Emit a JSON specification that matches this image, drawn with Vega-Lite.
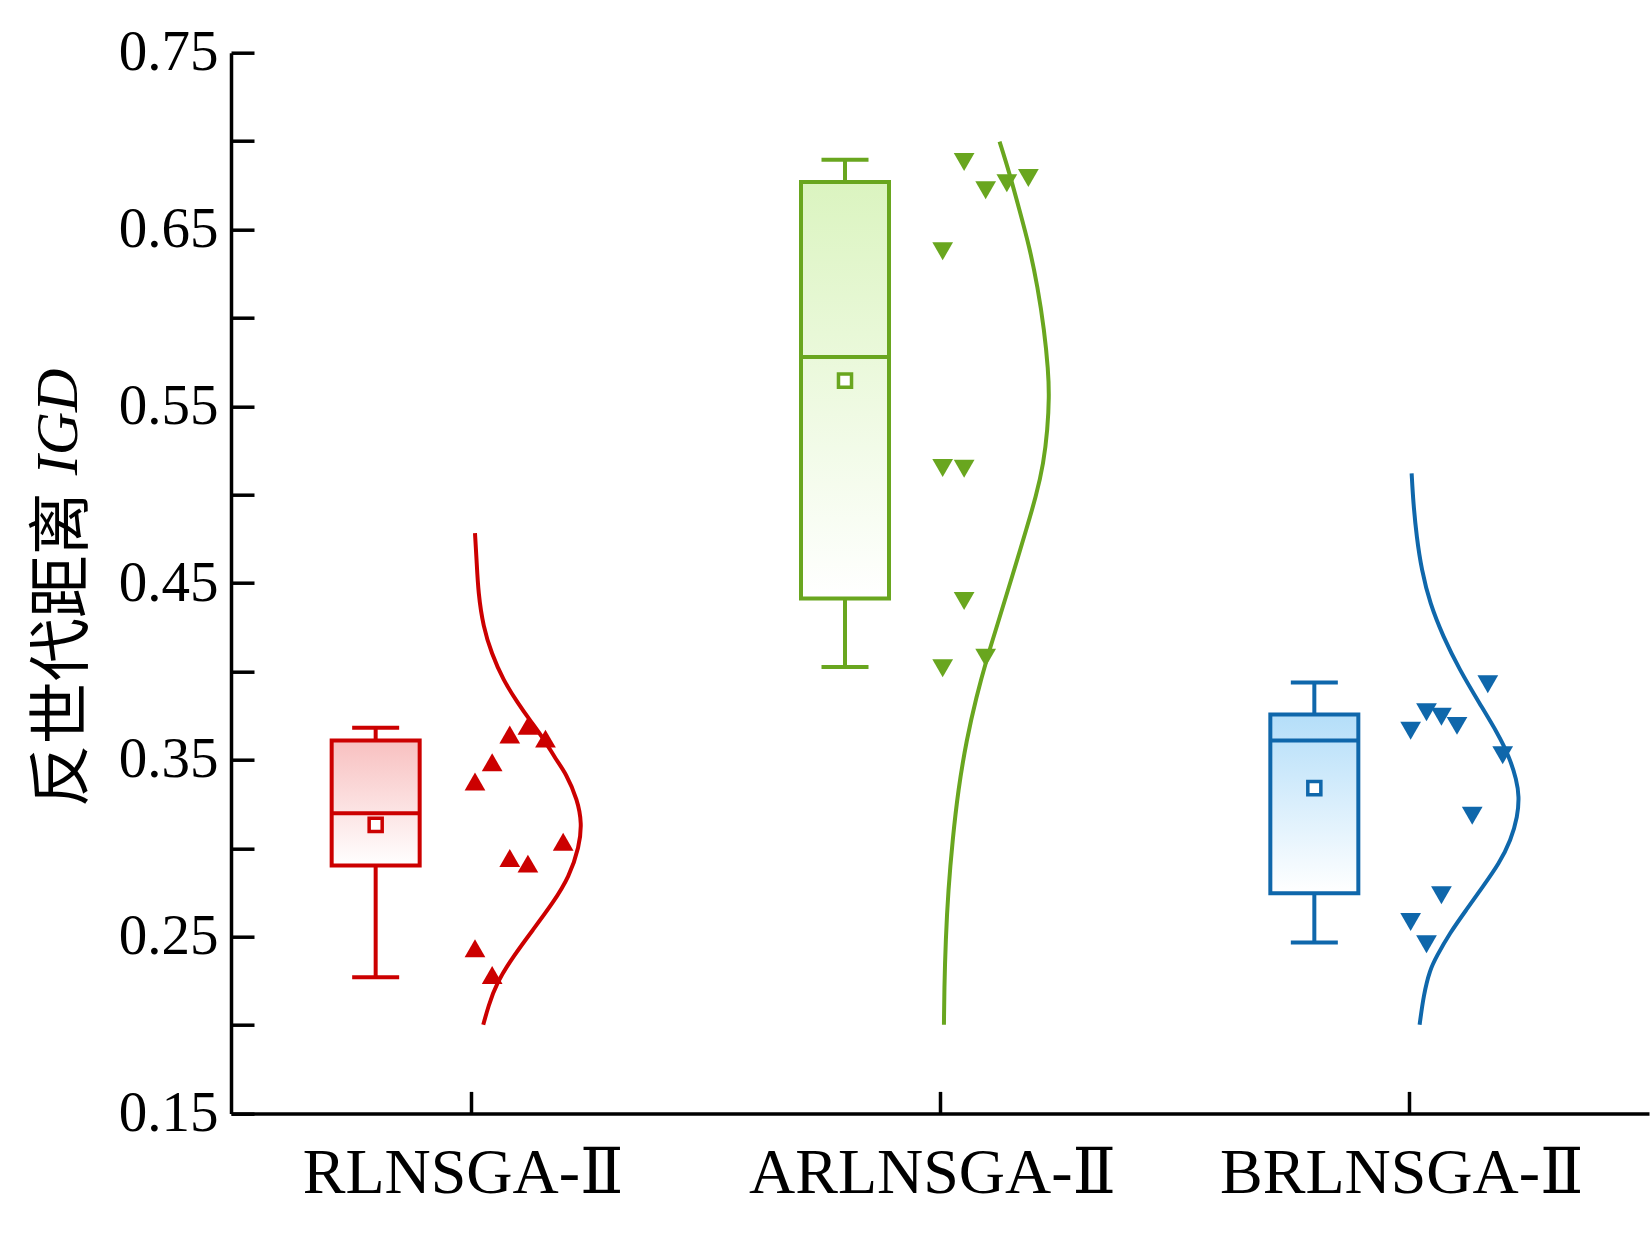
{
  "$schema": "https://vega.github.io/schema/vega-lite/v6.json",
  "description": "IGD box plots with points and normal curves",
  "autosize": "none",
  "width": 1418,
  "height": 1060.7,
  "padding": {"left": 231, "top": 52.7, "right": 1, "bottom": 124.6},
  "background": "white",
  "datasets": {
    "boxes": [
      {"g": "RLNSGA-Ⅱ", "pos": 0.5, "lo": 0.2270, "q1": 0.2902, "med": 0.3198, "q3": 0.3609, "hi": 0.3682, "mean": 0.3132},
      {"g": "ARLNSGA-Ⅱ", "pos": 1.5, "lo": 0.4025, "q1": 0.4412, "med": 0.5779, "q3": 0.6769, "hi": 0.6895, "mean": 0.5645},
      {"g": "BRLNSGA-Ⅱ", "pos": 2.5, "lo": 0.2467, "q1": 0.2746, "med": 0.3609, "q3": 0.3756, "hi": 0.3938, "mean": 0.3340}
    ],
    "points": [
      {"g": "RLNSGA-Ⅱ", "x": 0.5833, "v": 0.3643},
      {"g": "RLNSGA-Ⅱ", "x": 0.6220, "v": 0.3692},
      {"g": "RLNSGA-Ⅱ", "x": 0.6594, "v": 0.3620},
      {"g": "RLNSGA-Ⅱ", "x": 0.5458, "v": 0.3486},
      {"g": "RLNSGA-Ⅱ", "x": 0.5092, "v": 0.3377},
      {"g": "RLNSGA-Ⅱ", "x": 0.6971, "v": 0.3037},
      {"g": "RLNSGA-Ⅱ", "x": 0.5833, "v": 0.2945},
      {"g": "RLNSGA-Ⅱ", "x": 0.6220, "v": 0.2913},
      {"g": "RLNSGA-Ⅱ", "x": 0.5092, "v": 0.2434},
      {"g": "RLNSGA-Ⅱ", "x": 0.5458, "v": 0.2283},
      {"g": "ARLNSGA-Ⅱ", "x": 1.5514, "v": 0.6882},
      {"g": "ARLNSGA-Ⅱ", "x": 1.5973, "v": 0.6722},
      {"g": "ARLNSGA-Ⅱ", "x": 1.6424, "v": 0.6761},
      {"g": "ARLNSGA-Ⅱ", "x": 1.6883, "v": 0.6791},
      {"g": "ARLNSGA-Ⅱ", "x": 1.5057, "v": 0.6377},
      {"g": "ARLNSGA-Ⅱ", "x": 1.5057, "v": 0.5151},
      {"g": "ARLNSGA-Ⅱ", "x": 1.5514, "v": 0.5147},
      {"g": "ARLNSGA-Ⅱ", "x": 1.5514, "v": 0.4399},
      {"g": "ARLNSGA-Ⅱ", "x": 1.5057, "v": 0.4018},
      {"g": "ARLNSGA-Ⅱ", "x": 1.5973, "v": 0.4078},
      {"g": "BRLNSGA-Ⅱ", "x": 2.6672, "v": 0.3928},
      {"g": "BRLNSGA-Ⅱ", "x": 2.5366, "v": 0.3769},
      {"g": "BRLNSGA-Ⅱ", "x": 2.5684, "v": 0.3744},
      {"g": "BRLNSGA-Ⅱ", "x": 2.6016, "v": 0.3692},
      {"g": "BRLNSGA-Ⅱ", "x": 2.5028, "v": 0.3665},
      {"g": "BRLNSGA-Ⅱ", "x": 2.6989, "v": 0.3526},
      {"g": "BRLNSGA-Ⅱ", "x": 2.6340, "v": 0.3184},
      {"g": "BRLNSGA-Ⅱ", "x": 2.5684, "v": 0.2734},
      {"g": "BRLNSGA-Ⅱ", "x": 2.5028, "v": 0.2583},
      {"g": "BRLNSGA-Ⅱ", "x": 2.5366, "v": 0.2457}
    ],
    "curves": [
      {"g": "RLNSGA-Ⅱ", "x": 0.5092, "v": 0.4782},
      {"g": "RLNSGA-Ⅱ", "x": 0.5126, "v": 0.4631},
      {"g": "RLNSGA-Ⅱ", "x": 0.5162, "v": 0.4442},
      {"g": "RLNSGA-Ⅱ", "x": 0.5268, "v": 0.4253},
      {"g": "RLNSGA-Ⅱ", "x": 0.5444, "v": 0.4103},
      {"g": "RLNSGA-Ⅱ", "x": 0.5691, "v": 0.3952},
      {"g": "RLNSGA-Ⅱ", "x": 0.6008, "v": 0.3820},
      {"g": "RLNSGA-Ⅱ", "x": 0.6256, "v": 0.3726},
      {"g": "RLNSGA-Ⅱ", "x": 0.6573, "v": 0.3613},
      {"g": "RLNSGA-Ⅱ", "x": 0.6819, "v": 0.3500},
      {"g": "RLNSGA-Ⅱ", "x": 0.7030, "v": 0.3424},
      {"g": "RLNSGA-Ⅱ", "x": 0.7278, "v": 0.3273},
      {"g": "RLNSGA-Ⅱ", "x": 0.7369, "v": 0.3141},
      {"g": "RLNSGA-Ⅱ", "x": 0.7314, "v": 0.3009},
      {"g": "RLNSGA-Ⅱ", "x": 0.7102, "v": 0.2839},
      {"g": "RLNSGA-Ⅱ", "x": 0.6749, "v": 0.2689},
      {"g": "RLNSGA-Ⅱ", "x": 0.6326, "v": 0.2538},
      {"g": "RLNSGA-Ⅱ", "x": 0.5903, "v": 0.2387},
      {"g": "RLNSGA-Ⅱ", "x": 0.5549, "v": 0.2236},
      {"g": "RLNSGA-Ⅱ", "x": 0.5374, "v": 0.2104},
      {"g": "RLNSGA-Ⅱ", "x": 0.5268, "v": 0.2001},
      {"g": "ARLNSGA-Ⅱ", "x": 1.6269, "v": 0.6997},
      {"g": "ARLNSGA-Ⅱ", "x": 1.6481, "v": 0.6818},
      {"g": "ARLNSGA-Ⅱ", "x": 1.6693, "v": 0.6610},
      {"g": "ARLNSGA-Ⅱ", "x": 1.6904, "v": 0.6403},
      {"g": "ARLNSGA-Ⅱ", "x": 1.7080, "v": 0.6176},
      {"g": "ARLNSGA-Ⅱ", "x": 1.7221, "v": 0.5932},
      {"g": "ARLNSGA-Ⅱ", "x": 1.7306, "v": 0.5705},
      {"g": "ARLNSGA-Ⅱ", "x": 1.7327, "v": 0.5554},
      {"g": "ARLNSGA-Ⅱ", "x": 1.7291, "v": 0.5366},
      {"g": "ARLNSGA-Ⅱ", "x": 1.7207, "v": 0.5178},
      {"g": "ARLNSGA-Ⅱ", "x": 1.7046, "v": 0.4989},
      {"g": "ARLNSGA-Ⅱ", "x": 1.6834, "v": 0.4800},
      {"g": "ARLNSGA-Ⅱ", "x": 1.6623, "v": 0.4612},
      {"g": "ARLNSGA-Ⅱ", "x": 1.6449, "v": 0.4461},
      {"g": "ARLNSGA-Ⅱ", "x": 1.6233, "v": 0.4273},
      {"g": "ARLNSGA-Ⅱ", "x": 1.5988, "v": 0.4065},
      {"g": "ARLNSGA-Ⅱ", "x": 1.5776, "v": 0.3857},
      {"g": "ARLNSGA-Ⅱ", "x": 1.5565, "v": 0.3613},
      {"g": "ARLNSGA-Ⅱ", "x": 1.5387, "v": 0.3330},
      {"g": "ARLNSGA-Ⅱ", "x": 1.5268, "v": 0.3047},
      {"g": "ARLNSGA-Ⅱ", "x": 1.5176, "v": 0.2764},
      {"g": "ARLNSGA-Ⅱ", "x": 1.5121, "v": 0.2481},
      {"g": "ARLNSGA-Ⅱ", "x": 1.5091, "v": 0.2199},
      {"g": "ARLNSGA-Ⅱ", "x": 1.5084, "v": 0.2001},
      {"g": "BRLNSGA-Ⅱ", "x": 2.5049, "v": 0.5121},
      {"g": "BRLNSGA-Ⅱ", "x": 2.5085, "v": 0.4951},
      {"g": "BRLNSGA-Ⅱ", "x": 2.5155, "v": 0.4762},
      {"g": "BRLNSGA-Ⅱ", "x": 2.5261, "v": 0.4574},
      {"g": "BRLNSGA-Ⅱ", "x": 2.5437, "v": 0.4386},
      {"g": "BRLNSGA-Ⅱ", "x": 2.5720, "v": 0.4197},
      {"g": "BRLNSGA-Ⅱ", "x": 2.6071, "v": 0.4009},
      {"g": "BRLNSGA-Ⅱ", "x": 2.6494, "v": 0.3820},
      {"g": "BRLNSGA-Ⅱ", "x": 2.6884, "v": 0.3650},
      {"g": "BRLNSGA-Ⅱ", "x": 2.7129, "v": 0.3518},
      {"g": "BRLNSGA-Ⅱ", "x": 2.7286, "v": 0.3386},
      {"g": "BRLNSGA-Ⅱ", "x": 2.7340, "v": 0.3292},
      {"g": "BRLNSGA-Ⅱ", "x": 2.7307, "v": 0.3179},
      {"g": "BRLNSGA-Ⅱ", "x": 2.7165, "v": 0.3047},
      {"g": "BRLNSGA-Ⅱ", "x": 2.6918, "v": 0.2915},
      {"g": "BRLNSGA-Ⅱ", "x": 2.6566, "v": 0.2783},
      {"g": "BRLNSGA-Ⅱ", "x": 2.6213, "v": 0.2651},
      {"g": "BRLNSGA-Ⅱ", "x": 2.5859, "v": 0.2519},
      {"g": "BRLNSGA-Ⅱ", "x": 2.5578, "v": 0.2387},
      {"g": "BRLNSGA-Ⅱ", "x": 2.5437, "v": 0.2312},
      {"g": "BRLNSGA-Ⅱ", "x": 2.5304, "v": 0.2170},
      {"g": "BRLNSGA-Ⅱ", "x": 2.5219, "v": 0.2001}
    ]
  },
  "layer": [
    {
      "layer": [
        {
          "data": {"name": "boxes"},
          "mark": {"type": "rule", "strokeWidth": 4, "xOffset": -95},
          "encoding": {
            "x": {
              "field": "pos", "type": "quantitative",
              "scale": {"domain": [0, 3], "nice": false, "zero": false},
              "axis": {
                "values": [0.5, 1.5, 2.5],
                "labelExpr": "datum.value < 1 ? 'RLNSGA-Ⅱ' : datum.value < 2 ? 'ARLNSGA-Ⅱ' : 'BRLNSGA-Ⅱ'",
                "title": null, "grid": false,
                "tickSize": -22, "tickWidth": 3.5, "tickColor": "black",
                "domainWidth": 3.5, "domainColor": "black",
                "labelFont": "Liberation Serif, DejaVu Serif, Noto Sans CJK SC",
                "labelFontSize": 64, "labelColor": "black", "labelPadding": 50, "labelOffset": -8,
                "labelFlush": false, "labelOverlap": false, "labelLimit": 0
              }
            },
            "y": {
              "field": "lo", "type": "quantitative",
              "scale": {"domain": [0.15, 0.75], "nice": false, "zero": false},
              "title": "反世代距离",
              "axis": {
                "values": [0.15, 0.2, 0.25, 0.3, 0.35, 0.4, 0.45, 0.5, 0.55, 0.6, 0.65, 0.7, 0.75],
                "labelExpr": "round(datum.value * 100) % 10 == 5 ? format(datum.value, '.2f') : ''",
                "grid": false,
                "tickSize": -23, "tickWidth": 3.5, "tickColor": "black",
                "domainWidth": 3.5, "domainColor": "black",
                "labelFont": "Liberation Serif", "labelFontSize": 57, "labelColor": "black",
                "labelPadding": 36, "labelFlush": false, "labelOverlap": false,
                "titleFont": "Noto Sans CJK SC", "titleFontSize": 63,
                "titleFontWeight": "normal", "titleColor": "black",
                "titleAngle": -90, "titleAlign": "left", "titleBaseline": "middle",
                "titleX": -169, "titleY": 754
              }
            },
            "y2": {"field": "hi"},
            "color": {
              "field": "g", "type": "nominal", "legend": null,
              "scale": {"domain": ["RLNSGA-Ⅱ", "ARLNSGA-Ⅱ", "BRLNSGA-Ⅱ"], "range": ["#cc0000", "#69a61f", "#0f67ab"]}
            }
          }
        },
        {
          "data": {"name": "boxes"},
          "mark": {"type": "tick", "orient": "horizontal", "size": 47, "thickness": 4, "opacity": 1, "xOffset": -95},
          "encoding": {
            "x": {"field": "pos", "type": "quantitative", "title": null},
            "y": {"field": "hi", "type": "quantitative", "title": "反世代距离"},
            "color": {"field": "g", "type": "nominal", "legend": null}
          }
        },
        {
          "data": {"name": "boxes"},
          "mark": {"type": "tick", "orient": "horizontal", "size": 47, "thickness": 4, "opacity": 1, "xOffset": -95},
          "encoding": {
            "x": {"field": "pos", "type": "quantitative", "title": null},
            "y": {"field": "lo", "type": "quantitative", "title": "反世代距离"},
            "color": {"field": "g", "type": "nominal", "legend": null}
          }
        },
        {
          "data": {"name": "boxes"},
          "transform": [{"filter": "datum.pos === 0.5"}],
          "mark": {
            "type": "bar", "orient": "vertical", "width": 88, "xOffset": -95,
            "stroke": "#cc0000", "strokeWidth": 4,
            "fill": {"gradient": "linear", "x1": 0, "y1": 0, "x2": 0, "y2": 1,
              "stops": [{"offset": 0, "color": "#f8c0c0"}, {"offset": 1, "color": "#ffffff"}]}
          },
          "encoding": {
            "x": {"field": "pos", "type": "quantitative", "title": null},
            "y": {"field": "q3", "type": "quantitative", "title": "反世代距离"},
            "y2": {"field": "q1"}
          }
        },
        {
          "data": {"name": "boxes"},
          "transform": [{"filter": "datum.pos === 1.5"}],
          "mark": {
            "type": "bar", "orient": "vertical", "width": 88, "xOffset": -95,
            "stroke": "#69a61f", "strokeWidth": 4,
            "fill": {"gradient": "linear", "x1": 0, "y1": 0, "x2": 0, "y2": 1,
              "stops": [{"offset": 0, "color": "#dbf4c0"}, {"offset": 1, "color": "#ffffff"}]}
          },
          "encoding": {
            "x": {"field": "pos", "type": "quantitative", "title": null},
            "y": {"field": "q3", "type": "quantitative", "title": "反世代距离"},
            "y2": {"field": "q1"}
          }
        },
        {
          "data": {"name": "boxes"},
          "transform": [{"filter": "datum.pos === 2.5"}],
          "mark": {
            "type": "bar", "orient": "vertical", "width": 88, "xOffset": -95,
            "stroke": "#0f67ab", "strokeWidth": 4,
            "fill": {"gradient": "linear", "x1": 0, "y1": 0, "x2": 0, "y2": 1,
              "stops": [{"offset": 0, "color": "#b4def9"}, {"offset": 1, "color": "#ffffff"}]}
          },
          "encoding": {
            "x": {"field": "pos", "type": "quantitative", "title": null},
            "y": {"field": "q3", "type": "quantitative", "title": "反世代距离"},
            "y2": {"field": "q1"}
          }
        },
        {
          "data": {"name": "boxes"},
          "mark": {"type": "tick", "orient": "horizontal", "size": 88, "thickness": 4, "opacity": 1, "xOffset": -95},
          "encoding": {
            "x": {"field": "pos", "type": "quantitative", "title": null},
            "y": {"field": "med", "type": "quantitative", "title": "反世代距离"},
            "color": {"field": "g", "type": "nominal", "legend": null}
          }
        },
        {
          "data": {"name": "boxes"},
          "mark": {"type": "point", "shape": "square", "size": 170, "filled": false, "fill": "white", "strokeWidth": 3.5, "opacity": 1, "xOffset": -95},
          "encoding": {
            "x": {"field": "pos", "type": "quantitative", "title": null},
            "y": {"field": "mean", "type": "quantitative", "title": "反世代距离"},
            "stroke": {"field": "g", "type": "nominal", "legend": null,
              "scale": {"domain": ["RLNSGA-Ⅱ", "ARLNSGA-Ⅱ", "BRLNSGA-Ⅱ"], "range": ["#cc0000", "#69a61f", "#0f67ab"]}}
          }
        },
        {
          "data": {"name": "points"},
          "mark": {"type": "point", "filled": true, "size": 430, "opacity": 1},
          "encoding": {
            "x": {"field": "x", "type": "quantitative", "title": null},
            "y": {"field": "v", "type": "quantitative", "title": "反世代距离"},
            "color": {"field": "g", "type": "nominal", "legend": null},
            "shape": {"field": "g", "type": "nominal", "legend": null,
              "scale": {"domain": ["RLNSGA-Ⅱ", "ARLNSGA-Ⅱ", "BRLNSGA-Ⅱ"], "range": ["triangle-up", "triangle-down", "triangle-down"]}}
          }
        },
        {
          "data": {"name": "curves"},
          "mark": {"type": "line", "strokeWidth": 4, "interpolate": "basis"},
          "encoding": {
            "x": {"field": "x", "type": "quantitative", "title": null},
            "y": {"field": "v", "type": "quantitative", "title": "反世代距离"},
            "color": {"field": "g", "type": "nominal", "legend": null},
            "order": {"field": "v", "type": "quantitative"}
          }
        }
      ]
    },
    {
      "data": {"name": "boxes"},
      "mark": {"type": "tick", "opacity": 0},
      "encoding": {
        "x": {"field": "pos", "type": "quantitative", "title": null},
        "y": {
          "field": "hi", "type": "quantitative",
          "scale": {"domain": [0.15, 0.75], "nice": false, "zero": false},
          "title": "IGD",
          "axis": {
            "orient": "left", "labels": false, "ticks": false, "domain": false, "grid": false,
            "titleFont": "Liberation Serif", "titleFontStyle": "italic", "titleFontSize": 60,
            "titleFontWeight": "normal", "titleColor": "black",
            "titleAngle": -90, "titleAlign": "left", "titleBaseline": "middle",
            "titleX": -173, "titleY": 422
          }
        }
      }
    }
  ],
  "resolve": {"scale": {"y": "independent"}},
  "config": {
    "view": {"stroke": null},
    "font": "Liberation Serif"
  }
}
